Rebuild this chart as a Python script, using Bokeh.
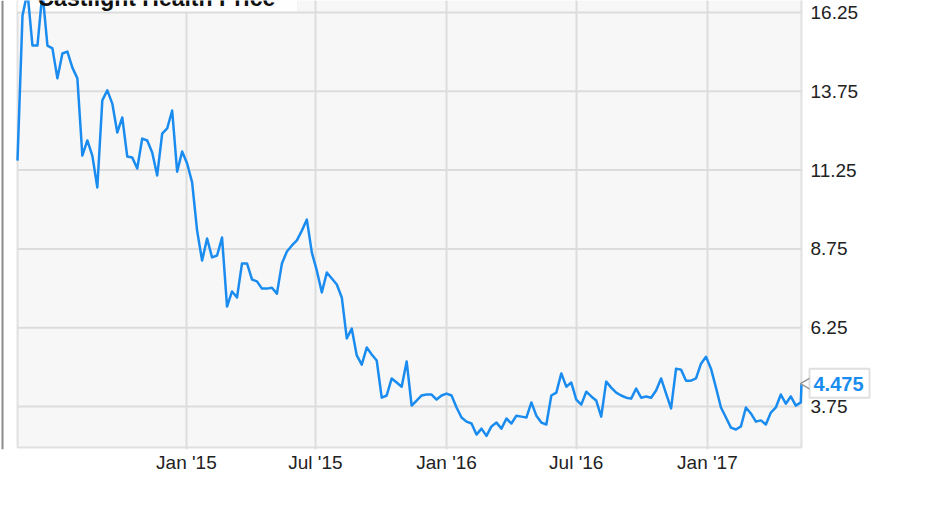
import math
import pandas as pd
from bokeh.plotting import figure
from bokeh.models import (FixedTicker, DatetimeTickFormatter, Range1d, Label,
                          BoxAnnotation, ColumnDataSource)
from bokeh.core.properties import value
from bokeh.embed import file_html
from bokeh.resources import INLINE

# ---------------- data ----------------
title_text = "Castlight Health Price"
first_week = "2014-05-09"
weekly_close = [
    11.55, 16.15, 16.90, 15.20, 15.20, 16.90, 15.20, 15.11, 14.16, 14.95,
    15.01, 14.50, 14.16, 11.71, 12.19, 11.71, 10.70, 13.46, 13.78, 13.36,
    12.44, 12.92, 11.68, 11.65, 11.30, 12.25, 12.19, 11.81, 11.08, 12.41,
    12.57, 13.14, 11.20, 11.84, 11.46, 10.86, 9.33, 8.38, 9.08, 8.48,
    8.54, 9.11, 6.92, 7.40, 7.21, 8.29, 8.29, 7.78, 7.72, 7.49,
    7.49, 7.52, 7.33, 8.29, 8.67, 8.86, 9.02, 9.33, 9.68, 8.63,
    8.06, 7.37, 8.00, 7.81, 7.62, 7.21, 5.91, 6.22, 5.37, 5.08,
    5.62, 5.40, 5.21, 4.03, 4.10, 4.64, 4.51, 4.38, 5.18, 3.78,
    3.94, 4.10, 4.13, 4.13, 3.97, 4.10, 4.16, 4.10, 3.72, 3.40,
    3.27, 3.21, 2.86, 3.05, 2.82, 3.12, 3.24, 3.05, 3.37, 3.21,
    3.46, 3.43, 3.40, 3.88, 3.46, 3.24, 3.18, 4.10, 4.19, 4.80,
    4.38, 4.51, 3.97, 3.81, 4.22, 4.07, 3.94, 3.43, 4.54, 4.35,
    4.19, 4.10, 4.03, 4.00, 4.32, 4.03, 4.07, 4.03, 4.26, 4.64,
    4.16, 3.69, 4.95, 4.92, 4.57, 4.57, 4.64, 5.11, 5.33, 4.95,
    4.35, 3.72, 3.40, 3.08, 3.02, 3.12, 3.72, 3.53, 3.27, 3.31,
    3.18, 3.56, 3.72, 4.13, 3.84, 4.07, 3.78, 3.88,
]
last_date = "2017-05-13"
last_close = 4.475

y_ticks = [3.75, 6.25, 8.75, 11.25, 13.75, 16.25]
y_tick_labels = ["3.75", "6.25", "8.75", "11.25", "13.75", "16.25"]
x_tick_dates = ["2015-01-01", "2015-07-01", "2016-01-01", "2016-07-01", "2017-01-01"]
x_tick_labels = ["Jan '15", "Jul '15", "Jan '16", "Jul '16", "Jan '17"]
y_min, y_max = 2.45, 16.63

# ---------------- layout (pixels) ----------------
W, H = 915, 490
PLOT_L, PLOT_R, PLOT_B = 17, 801, 447   # plot area edges on the canvas
FRAME_B = 449                           # frame bottom (x axis below it)

dates = list(pd.date_range(first_week, periods=len(weekly_close), freq="7D"))
dates.append(pd.Timestamp(last_date))
closes = weekly_close + [last_close]
src = ColumnDataSource(dict(date=dates, close=closes))

def ms(d):
    return pd.Timestamp(d).value // 10**6

x_start, x_end = ms(dates[0]), ms(dates[-1])
px_x = (PLOT_R - PLOT_L) / (x_end - x_start)     # pixels per ms
px_y = PLOT_B / (y_max - y_min)                  # pixels per unit

def dx(px):
    return px / px_x

def dy(px):
    return px / px_y

p = figure(width=W, height=H, x_axis_type="datetime", y_axis_location=None,
           x_range=Range1d(x_start - dx(PLOT_L), x_start + dx(W - PLOT_L)),
           y_range=Range1d(y_min - dy(FRAME_B - PLOT_B), y_max),
           output_backend="svg", toolbar_location=None,
           min_border_left=0, min_border_right=0, min_border_top=0,
           min_border_bottom=H - FRAME_B,
           background_fill_color="white", border_fill_color="white",
           outline_line_color=None)

blue = "#1a8cf0"
font = "Liberation Sans"
grid_color = "#dcdcdc"
edge_color = "#979797"

# plot area (grey panel with border)
p.add_layout(BoxAnnotation(left=x_start, right=x_end, bottom=y_min,
                           top=y_max + 1, fill_color="#f7f7f7", fill_alpha=1,
                           line_color="#a3a3a3", line_width=2, level="image"))

# outer chart border on the left
p.add_layout(BoxAnnotation(left=x_start - dx(16), right=x_start - dx(14),
                           fill_color="#8c8c8c", fill_alpha=1,
                           line_color=None, level="image"))

xt = [ms(d) for d in x_tick_dates]
p.xaxis.ticker = FixedTicker(ticks=xt)
p.xaxis.formatter = DatetimeTickFormatter(months="%b '%y", days="%b '%y")
p.xaxis.major_label_overrides = {t: l for t, l in zip(xt, x_tick_labels)}
p.xaxis.axis_line_color = None
p.xaxis.major_tick_line_color = None
p.xaxis.minor_tick_line_color = None
p.xaxis.major_tick_out = 0
p.xaxis.major_tick_in = 0
p.xaxis.major_label_text_font = font
p.xaxis.major_label_text_font_size = "19px"
p.xaxis.major_label_text_color = "#222222"
p.xaxis.major_label_standoff = 2

p.xgrid.ticker = FixedTicker(ticks=xt)
p.xgrid.grid_line_color = grid_color
p.xgrid.grid_line_width = 2
p.ygrid.visible = False

# horizontal grid lines, limited to the plot area
p.segment(x0=[x_start] * len(y_ticks), x1=[x_end] * len(y_ticks),
          y0=y_ticks, y1=y_ticks, line_color=grid_color, line_width=2,
          level="underlay")

# title box
p.add_layout(BoxAnnotation(left=x_start, right=x_start + dx(280),
                           bottom=y_max - dy(11), top=y_max + 1,
                           fill_color="white", fill_alpha=0.85,
                           line_color="#e3e3e3", line_width=1,
                           level="underlay"))

p.line(x="date", y="close", source=src, line_color=blue, line_width=2.5,
       line_join="round")

# right value axis labels
p.text(x=[x_end] * len(y_ticks), y=y_ticks, text=y_tick_labels,
       x_offset=9, text_baseline="middle", text_align="left",
       text_font=value(font), text_font_size="19px", text_color="#222222")

# title (only its lower part is visible, as in the original crop)
p.text(x=[x_start + dx(20)], y=[y_max + dy(3)], text=[title_text],
       text_baseline="alphabetic", text_align="left",
       text_font=value(font), text_font_style="bold",
       text_font_size="23px", text_color="#111111")

# last value callout with pointer
p.scatter(x=[x_end + dx(7)], y=[last_close], marker="triangle", size=14,
          angle=math.pi / 2, fill_color="white", line_color=edge_color,
          line_width=1.5)
p.add_layout(BoxAnnotation(left=x_end + dx(8), right=x_end + dx(68),
                           bottom=last_close - dy(14),
                           top=last_close + dy(15),
                           fill_color="white", fill_alpha=1,
                           line_color=edge_color, line_width=2))
p.add_layout(Label(x=x_end, y=last_close, x_offset=12,
                   text=f"{last_close:.3f}", text_font=font,
                   text_font_style="bold", text_font_size="20px",
                   text_color=blue, text_baseline="middle"))

open("out.html", "w").write(file_html(p, INLINE))
